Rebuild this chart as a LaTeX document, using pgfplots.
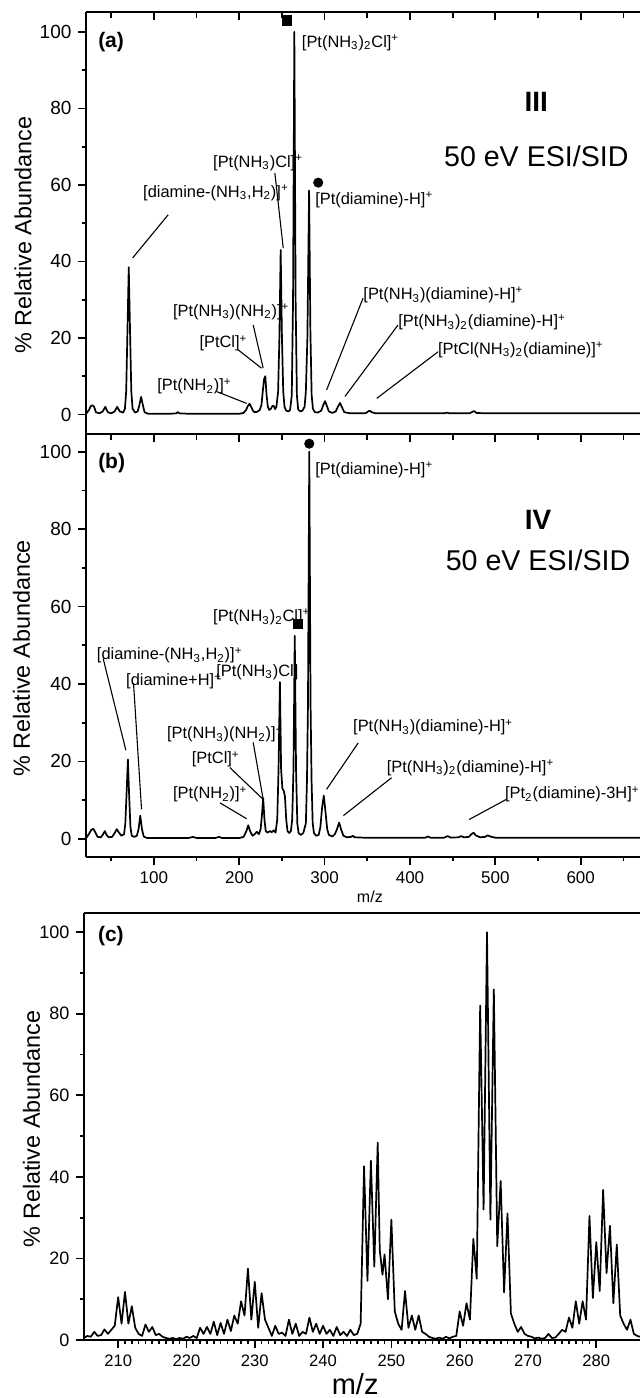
\documentclass[border=0pt]{standalone}
\usepackage{fontspec}
\setmainfont{Liberation Sans}
\usepackage{pgfplots}
\pgfplotsset{compat=1.18}
\tikzset{
 lab/.style={font=\fontsize{8.2}{9}\selectfont, anchor=west, inner sep=0pt},
 ylab/.style={rotate=90, font=\fontsize{11.7}{13}\selectfont},
 plab/.style={font=\bfseries\fontsize{10.5}{12}\selectfont, anchor=west, inner sep=0pt},
 roman/.style={font=\bfseries\fontsize{14}{16}\selectfont},
 ev/.style={font=\fontsize{14.3}{16}\selectfont},
 spec/.style={black, mark=none, line width=0.85pt, line join=round},
}
\pgfplotsset{
 base/.style={scale only axis, axis y line*=left, clip=false, tick align=outside,
  axis line style={line width=1pt}, every tick/.style={black, line width=0.85pt},
  major tick length=4pt, minor tick length=2.2pt,
  /pgf/number format/assume math mode=true,
  yticklabel style={font=\fontsize{9.5}{11}\selectfont},
  xticklabel style={font=\fontsize{8.5}{10}\selectfont},
  ytick={0,20,...,100}, minor ytick={10,30,...,90}},
 topticks/.style={scale only axis, axis x line*=top, axis y line=none, tick align=inside,
  axis line style={line width=1pt}, every tick/.style={black, line width=0.85pt},
  major tick length=4pt, minor tick length=3pt,
  xtick={100,200,...,600}, minor xtick={50,150,...,650}, xticklabels={}, ytick=\empty},
}
\begin{document}
\begin{tikzpicture}
\useasboundingbox (0,0) rectangle (320pt,-699pt);
% ---------------- panel (a)
\begin{axis}[base, at={(43.25pt,-217pt)}, anchor=south west,
  width=276.75pt, height=211pt, xmin=21, xmax=669.5, ymin=-5.1, ymax=105.2, xtick=\empty]
\addplot[spec] coordinates {(21,0.3) (24,1.2) (26,2.2) (28,2.4) (30,2.0) (32,0.6) (36,0.3) (40,0.8) (43,2.0) (46,0.6) (50,0.3) (54,0.8) (57,2.0) (60,0.8) (64,0.5) (66,1.5) (67.5,6) (69,22) (70.5,38.5) (72,22) (73.5,6) (75,1.5) (78,0.5) (81,0.8) (83,2.5) (85,4.6) (87,2.5) (89,0.6) (93,0.2) (120,0.2) (126,0.3) (128,0.6) (130,0.3) (140,0.2) (200,0.2) (205,0.4) (208,1.2) (210,2.2) (212,2.8) (214,2.0) (216,1.0) (218,0.6) (221,0.7) (224,1.2) (226,2.5) (227.5,6) (229,9.2) (230.5,10) (232,5) (233.5,2) (235,1.2) (237,1.5) (239,2.3) (240.5,2.2) (242,1.4) (243.5,2) (245.5,6) (247,20) (248.5,43) (250,20) (251.5,6) (253,2) (255,1) (257.5,0.8) (259.5,1.2) (261.5,5) (263,30) (264.5,100) (266,30) (267.5,5) (269,1.3) (271.5,0.8) (274,1.0) (276.5,2) (278,6) (279.8,20) (281.8,58.5) (283.3,22) (284.8,5) (286.3,1.5) (288.5,0.6) (292,0.5) (296,1) (298.5,2.5) (300.5,3.5) (302.5,2.3) (305,0.8) (309,0.4) (313,0.8) (315.5,2) (318,3) (320.5,1.8) (323,0.6) (330,0.3) (348,0.3) (351,0.8) (353,1.0) (355,0.6) (360,0.3) (440,0.3) (443,0.5) (446,0.3) (470,0.3) (473,0.7) (475,0.9) (478,0.4) (490,0.3) (669.5,0.3)};
\addplot[only marks, mark=square*, mark size=2.3pt] coordinates {(256.2,103.0)};
\addplot[only marks, mark=*, mark size=2.3pt] coordinates {(292.5,60.6)};
\node[ylab] at (-53.5,46.9) {\% Relative Abundance};
\node[plab] at (34.3,97.4) {(a)};
\node[roman] at (548,81.8) {III};
\node[ev] at (548,67.4) {50 eV ESI/SID};
\node[lab] at (273,97.1) {[Pt(NH\textsubscript{3})\textsubscript{2}Cl]\textsuperscript{+}};
\node[lab] at (169,65.8) {[Pt(NH\textsubscript{3})Cl]\textsuperscript{+}};
\node[lab] at (87,57.9) {[diamine-(NH\textsubscript{3},H\textsubscript{2})]\textsuperscript{+}};
\node[lab] at (288.6,56.1) {[Pt(diamine)-H]\textsuperscript{+}};
\node[lab] at (122,26.9) {[Pt(NH\textsubscript{3})(NH\textsubscript{2})]\textsuperscript{+}};
\node[lab] at (153,18.6) {[PtCl]\textsuperscript{+}};
\node[lab] at (103.5,7.3) {[Pt(NH\textsubscript{2})]\textsuperscript{+}};
\node[lab] at (345,31.2) {[Pt(NH\textsubscript{3})(diamine)-H]\textsuperscript{+}};
\node[lab] at (386,24.1) {[Pt(NH\textsubscript{3})\textsubscript{2}(diamine)-H]\textsuperscript{+}};
\node[lab] at (432.5,16.9) {[PtCl(NH\textsubscript{3})\textsubscript{2}(diamine)]\textsuperscript{+}};
\draw[line width=0.55pt] (116.7,52.2) -- (75,40.9);
\draw[line width=0.55pt] (241.7,63.1) -- (251.5,43.5);
\draw[line width=0.55pt] (216.3,23.4) -- (228,12.1);
\draw[line width=0.55pt] (198.7,16.9) -- (226,12.1);
\draw[line width=0.55pt] (173.4,6.0) -- (208.6,2.9);
\draw[line width=0.55pt] (345,30.4) -- (302.3,6.4);
\draw[line width=0.55pt] (386,23.4) -- (323.8,4.7);
\draw[line width=0.55pt] (433,16.4) -- (361,4.2);
\end{axis}
\begin{axis}[topticks, at={(43.25pt,-217pt)}, anchor=south west,
  width=276.75pt, height=211pt, xmin=21, xmax=669.5, ymin=-5.1, ymax=105.2]
\end{axis}
% ---------------- panel (b)
\begin{axis}[base, at={(43.25pt,-428.5pt)}, anchor=south west,
  width=276.75pt, height=211.5pt, xmin=21, xmax=669.5, ymin=-4.7, ymax=104.6,
  xtick={100,200,...,600}, minor xtick={50,150,...,650}, xtick pos=left]
\addplot[spec] coordinates {(21,0.3) (24,1.3) (26.5,2.3) (29,2.6) (31.5,1.6) (34,0.5) (38,0.4) (40.5,1.2) (42.5,2.0) (44.5,1.0) (47,0.4) (51,0.5) (54,1.5) (56.5,2.5) (59,1.6) (62,0.8) (65,1.2) (66.5,4) (68,12) (69.5,20.5) (71,11) (72.5,3) (74,0.8) (77,0.5) (80,0.8) (82,2.5) (84,6) (86,2.5) (88,0.6) (92,0.2) (140,0.2) (146,0.5) (150,0.2) (172,0.2) (176,0.5) (180,0.2) (200,0.2) (205,0.5) (208,1.8) (210.5,3.5) (213,1.8) (215.5,0.8) (218,1.2) (220.5,1.8) (223,1.2) (225,2.5) (226.5,6) (228,10.5) (229.5,5) (231,2) (233,1.6) (236,2.0) (238,1.7) (240.5,2.2) (242.5,1.6) (244.5,5) (246,18) (247.6,40.5) (249,18) (250.5,13) (252,12.5) (253.5,11) (255,5) (256.5,2) (258.5,1.5) (260.5,2) (262,5) (263.5,18) (265,52.5) (266.5,18) (268,4) (269.5,1.5) (272,1.0) (275,1.5) (278,4) (279.3,15) (280.5,35) (282,100) (283.5,35) (284.7,15) (286,4) (287.5,1.5) (290,0.8) (293,1) (295,3) (297,8) (299,11.2) (301,7) (303,2.5) (305,1) (309,0.6) (312,1.2) (314.5,2.5) (317,4.2) (319.5,2.3) (322,0.8) (326,0.4) (331,0.5) (333,0.8) (335,0.4) (345,0.3) (418,0.3) (421,0.6) (424,0.3) (440,0.3) (444,0.7) (448,0.3) (457,0.4) (460,0.7) (463,0.4) (469,0.5) (472,1.2) (474.5,1.6) (477,0.9) (482,0.4) (488,0.5) (491,0.9) (494,0.6) (500,0.3) (669.5,0.3)};
\addplot[only marks, mark=*, mark size=2.3pt] coordinates {(282,102.1)};
\addplot[only marks, mark=square*, mark size=2.3pt] coordinates {(268.3,55.6)};
\node[ylab] at (-55,46.6) {\% Relative Abundance};
\node[plab] at (34.3,97.1) {(b)};
\node[roman] at (550,82.5) {IV};
\node[ev] at (550,72.1) {50 eV ESI/SID};
\node[lab] at (288.6,95.4) {[Pt(diamine)-H]\textsuperscript{+}};
\node[lab] at (169,57.3) {[Pt(NH\textsubscript{3})\textsubscript{2}Cl]\textsuperscript{+}};
\node[lab] at (32.8,47.4) {[diamine-(NH\textsubscript{3},H\textsubscript{2})]\textsuperscript{+}};
\node[lab] at (67.1,40.7) {[diamine+H]\textsuperscript{+}};
\node[lab] at (172.6,43.1) {[Pt(NH\textsubscript{3})Cl]};
\node[lab] at (115,27.0) {[Pt(NH\textsubscript{3})(NH\textsubscript{2})]\textsuperscript{+}};
\node[lab] at (144,20.5) {[PtCl]\textsuperscript{+}};
\node[lab] at (122,11.5) {[Pt(NH\textsubscript{2})]\textsuperscript{+}};
\node[lab] at (333,28.8) {[Pt(NH\textsubscript{3})(diamine)-H]\textsuperscript{+}};
\node[lab] at (372.5,18.4) {[Pt(NH\textsubscript{3})\textsubscript{2}(diamine)-H]\textsuperscript{+}};
\node[lab] at (511,11.5) {[Pt\textsubscript{2}(diamine)-3H]\textsuperscript{+}};
\draw[line width=0.55pt] (40.5,46.6) -- (67.1,22.9);
\draw[line width=0.55pt] (76.1,40.2) -- (85.5,7.6);
\draw[line width=0.55pt] (216.3,24.9) -- (228,10.2);
\draw[line width=0.55pt] (189,18.4) -- (228,10.2);
\draw[line width=0.55pt] (177.3,9.3) -- (208.6,5.2);
\draw[line width=0.55pt] (339.4,24.8) -- (302.3,12.8);
\draw[line width=0.55pt] (378.5,15.8) -- (322,6);
\draw[line width=0.55pt] (513,10.2) -- (469.4,5);
\node[font=\fontsize{8}{9}\selectfont] at (353,-15.1) {m/z};
\end{axis}
\begin{axis}[topticks, at={(43.25pt,-428.5pt)}, anchor=south west,
  width=276.75pt, height=211.5pt, xmin=21, xmax=669.5, ymin=-4.7, ymax=104.6]
\end{axis}
% ---------------- panel (c)
\begin{axis}[base, at={(42pt,-670pt)}, anchor=south west,
  width=278pt, height=213.5pt, xmin=205, xmax=286.4, ymin=0, ymax=104.7,
  xtick={210,220,...,280}, minor x tick num=9, xtick pos=left,
  major tick length=3.8pt, minor tick length=1.8pt,
  xticklabel style={font=\fontsize{8.3}{10}\selectfont},
  yticklabel style={font=\fontsize{9}{11}\selectfont}]
\addplot[spec] coordinates {(205.0,0.5) (205.5,1.0) (206.0,0.8) (206.5,2.0) (207.0,1.0) (207.5,1.2) (208.0,2.6) (208.5,1.5) (209.0,2.5) (209.5,3.5) (210.0,10.5) (210.5,4.0) (211.0,11.8) (211.5,4.0) (212.0,8.3) (212.5,3.0) (213.0,1.5) (213.5,1.0) (214.0,3.8) (214.5,2.0) (215.0,3.2) (215.5,1.2) (216.0,1.5) (216.5,0.8) (217.0,0.5) (217.5,0.3) (218.0,0.5) (218.5,0.2) (219.0,0.5) (219.5,0.3) (220.0,0.8) (220.5,0.5) (221.0,1.0) (221.5,0.5) (222.0,3.0) (222.5,1.5) (223.0,3.2) (223.5,1.5) (224.0,4.5) (224.5,1.2) (225.0,4.2) (225.5,1.5) (226.0,5.0) (226.5,2.2) (227.0,6.0) (227.5,4.0) (228.0,9.5) (228.5,6.0) (229.0,17.5) (229.5,5.0) (230.0,14.3) (230.5,3.0) (231.0,11.5) (231.5,5.0) (232.0,3.0) (232.5,1.0) (233.0,3.5) (233.5,1.5) (234.0,1.8) (234.5,1.0) (235.0,5.0) (235.5,1.5) (236.0,4.0) (236.5,1.0) (237.0,2.0) (237.5,1.5) (238.0,5.5) (238.5,2.0) (239.0,4.0) (239.5,1.5) (240.0,3.5) (240.5,1.5) (241.0,2.5) (241.5,1.0) (242.0,3.2) (242.5,1.2) (243.0,2.0) (243.5,1.0) (244.0,2.5) (244.5,1.2) (245.0,1.5) (245.5,4.0) (246.0,42.6) (246.5,14.5) (247.0,44.0) (247.5,18.0) (248.0,48.4) (248.3,22.0) (248.7,16.0) (249.0,21.0) (249.5,10.0) (250.0,29.5) (250.5,7.0) (251.0,4.0) (251.5,2.5) (252.0,12.0) (252.5,3.0) (253.0,6.0) (253.5,2.5) (254.0,6.0) (254.5,2.0) (255.0,1.5) (255.5,0.8) (256.0,0.5) (256.5,0.3) (257.0,0.6) (257.5,0.3) (258.0,0.8) (258.5,0.4) (259.0,0.8) (259.5,1.0) (260.0,7.0) (260.5,3.5) (261.0,9.0) (261.5,5.0) (262.0,24.8) (262.5,15.0) (263.0,82.0) (263.5,32.0) (264.0,100) (264.5,29.5) (265.0,86.0) (265.5,23.0) (266.0,39.0) (266.5,11.7) (267.0,31.0) (267.5,6.5) (268.0,4.0) (268.5,2.0) (269.0,3.2) (269.5,1.5) (270.0,1.0) (270.5,0.8) (271.0,0.4) (271.5,0.6) (272.0,0.3) (272.5,0.5) (273.0,1.5) (273.5,0.5) (274.0,0.6) (274.5,1.5) (275.0,2.5) (275.5,2.0) (276.0,5.5) (276.5,3.0) (277.0,9.5) (277.5,4.0) (278.0,9.5) (278.5,5.0) (279.0,30.4) (279.5,10.3) (280.0,24.0) (280.5,12.0) (281.0,36.8) (281.5,16.4) (282.0,28.0) (282.5,9.0) (283.0,23.4) (283.5,6.0) (284.0,4.0) (284.5,2.5) (285.0,5.0) (285.5,1.5) (286.0,1.0) (286.4,0.8)};
\node[ylab] at (197.3,51.8) {\% Relative Abundance};
\node[plab] at (207,99) {(c)};
\node[font=\fontsize{14.5}{16}\selectfont] at (244.7,-10.8) {m/z};
\end{axis}
\end{tikzpicture}
\end{document}
